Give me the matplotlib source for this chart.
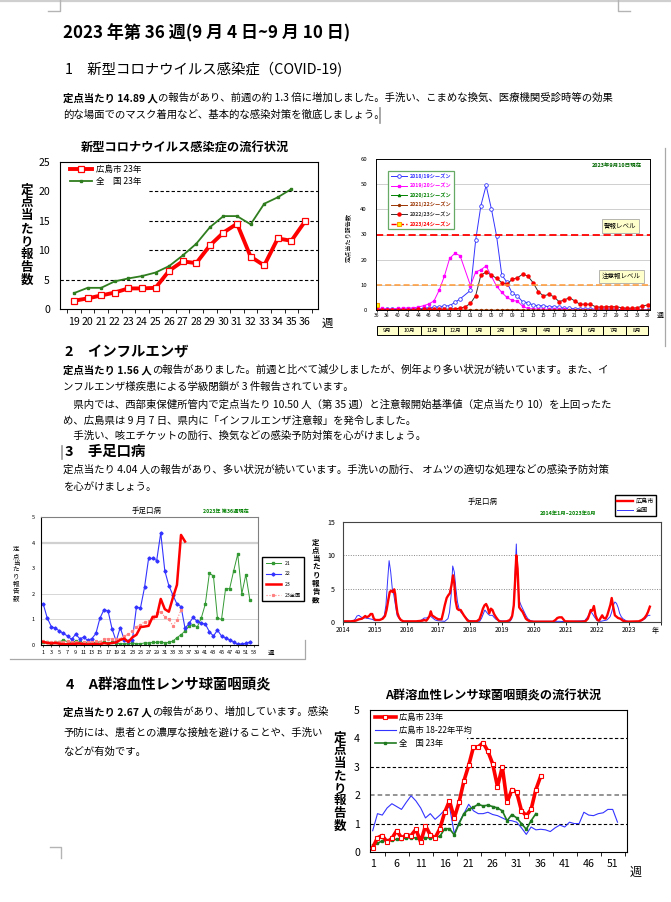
"""
Hiroshima city weekly infectious disease report, 2023 week 36.
Page text plus five small trend charts, drawn onto one 671x902 canvas.
"""
import numpy as np
import matplotlib
matplotlib.use("Agg")
import matplotlib.pyplot as plt
from matplotlib.patches import Rectangle

plt.rcParams["font.family"] = ["Noto Sans CJK JP", "DejaVu Sans"]
plt.rcParams["axes.unicode_minus"] = False

W, H = 671, 902

# ---- 1. COVID-19 (per-sentinel counts, weeks 19-36) ----
covid_weeks = list(range(19, 37))
covid_hiroshima = [1.4, 1.8, 2.3, 2.8, 3.5, 3.5, 3.6, 6.5, 8.1, 7.8, 10.8, 13.0,
                   14.5, 8.9, 7.4, 12.0, 11.6, 14.89]
covid_national = [2.7, 3.6, 3.6, 4.7, 5.2, 5.6, 6.2, 7.3, 9.1, 11.1, 13.9, 15.8,
                  15.8, 14.4, 17.9, 19.0, 20.4]

# ---- 2. Influenza by season (week 36 .. 53, 1 .. 35) ----
flu_weeks = list(range(36, 54)) + list(range(1, 36))
nan = float("nan")
flu_1819 = [0.3, 0.2, 0.2, 0.3, 0.3, 0.3, 0.4, 0.4, 0.5,
            0.6, 0.8, 1.0, 1.3, 1.6, 1.7, 3.0, 4.4, nan,
            7.8, 27.8, 41.5, 49.5, 40.3, 29.5, 14.0, 11.0, 6.6, 5.6, 3.3, 2.9,
            2.0, 1.7, 1.7, 1.3, 1.3, 1.1,
            0.7, 0.6, 0.5, 0.5, 0.4, 0.4, 0.3, 0.3, 0.3, 0.2, 0.2, 0.2, 0.2,
            0.1, 0.1, 0.1, 0.1]
flu_1920 = [0.5, 0.6, 0.5, 0.5, 0.6, 0.7, 0.8, 0.8, 1.2,
            1.7, 2.4, 3.6, 7.9, 13.5, 20.5, 22.5, 21.6, nan,
            9.7, 15.1, 16.0, 17.5, 13.5, 9.5, 7.0, 5.0, 3.8, 3.5, 1.5, 0.6,
            0.4, 0.3, 0.3, 0.2, 0.2, 0.2,
            0.2, 0.1, 0.1, 0.1, 0.1, 0.1, 0.1, 0.1, 0.1, 0.1, 0.1, 0.1, 0.1,
            0.1, 0.1, 0.1, 0.1]
flu_2021 = [0.0, 0.0, 0.0, 0.0, 0.0, 0.0, 0.0, 0.0, 0.0, 0.0, 0.0, 0.0, 0.0,
            0.0, 0.0, 0.0, 0.0, 0.0, 0.0, 0.0, 0.0, 0.0, 0.0, 0.0, 0.0, 0.0,
            0.0, 0.0, 0.0, 0.0, 0.0, 0.0, 0.0, 0.0, 0.0, 0.0, 0.0, 0.0, 0.0,
            0.0, 0.0, 0.0, 0.0, 0.0, 0.0, 0.0, 0.0, 0.0, 0.0, 0.0, 0.0, 0.0, 0.0]
flu_2122 = [0.0, 0.0, 0.0, 0.0, 0.0, 0.0, 0.0, 0.0, 0.0, 0.0, 0.0, 0.0, 0.0,
            0.0, 0.0, 0.0, 0.0, nan, 0.0, 0.0, 0.0, 0.0, 0.0, 0.0, 0.0, 0.1,
            0.1, 0.1, 0.1, 0.0, 0.0, 0.0, 0.0, 0.0, 0.0, 0.0, 0.0, 0.0, 0.0,
            0.0, 0.0, 0.0, 0.0, 0.0, 0.0, 0.0, 0.0, 0.0, 0.0, 0.0, 0.0, 0.0, 0.0]
flu_2223 = [0.1, 0.1, 0.1, 0.1, 0.1, 0.1, 0.1, 0.1, 0.2, 0.2, 0.2, 0.2, 0.3,
            0.3, 0.4, 0.5,
            0.7, 1.3, 2.6, 5.7, 13.9, 15.0, 13.9, 12.6, 10.9, 10.2,
            12.2, 12.8, 14.2, 13.5, 10.9, 7.3, 5.6, 6.2, 5.3, 3.3,
            4.0, 4.9, 3.6, 2.3, 2.3, 2.3, 1.3, 1.1, 1.3, 1.3,
            1.3, 0.9, 0.7, 0.7, 0.9, 1.6, 2.0]
flu_2324 = [1.9]
flu_warning = 30
flu_advisory = 10
month_names = ["9月", "10月", "11月", "12月", "1月", "2月", "3月", "4月",
               "5月", "6月", "7月", "8月"]
month_edges = [0, 4.1, 8.6, 12.9, 17.3, 21.7, 26.1, 30.5, 34.9, 39.2, 43.4,
               47.8, 52.1]

# ---- 3a. Hand, foot and mouth disease, weekly by year ----
hfmd_21 = [0.1, 0.12, 0.08, 0.1, 0.12, 0.2, 0.12, 0.1, 0.15, 0.1,
           0.08, 0.1, 0.08, 0.1, 0.12, 0.1, 0.08, 0.1, 0.08, 0.05,
           0.05, 0.05, 0.08, 0.05, 0.05, 0.08, 0.08, 0.1, 0.1, 0.12,
           0.08, 0.1, 0.15, 0.29, 0.4, 0.55, 0.75, 0.8, 0.7, 1.05,
           1.6, 2.8, 2.7, 1.05, 1.0, 2.2, 2.2, 2.9, 3.55, 2.0, 2.75, 1.75]
hfmd_22 = [1.6, 1.05, 0.72, 0.65, 0.55, 0.45, 0.35, 0.22, 0.42, 0.25,
           0.3, 0.18, 0.25, 0.45, 1.05, 1.38, 1.33, 0.62, 0.15, 0.68,
           0.2, 0.15, 0.2, 1.48, 1.45, 2.25, 3.38, 3.38, 3.3, 4.38,
           2.9, 2.32, 1.95, 1.6, 1.5, 0.65, 0.85, 1.08, 0.92, 0.85,
           0.82, 0.52, 0.35, 0.58, 0.35, 0.28, 0.2, 0.12, 0.02, 0.05, 0.06, 0.12]
hfmd_23 = [0.12, 0.08, 0.06, 0.08, 0.05, 0.03, 0.03, 0.04, 0.05, 0.06,
           0.03, 0.02, 0.03, 0.04, 0.02, 0.08, 0.05, 0.08, 0.1, 0.2,
           0.25, 0.12, 0.3, 0.4, 0.7, 0.72, 0.75, 1.1, 1.1, 1.8,
           1.4, 1.3, 1.85, 2.35, 4.3, 4.04]
hfmd_23_nat = [0.15, 0.12, 0.1, 0.12, 0.1, 0.12, 0.15, 0.1, 0.1, 0.08,
               0.1, 0.1, 0.12, 0.15, 0.12, 0.22, 0.25, 0.25, 0.22, 0.25,
               0.35, 0.42, 0.55, 0.7, 0.8, 0.9, 0.92, 1.05, 1.25, 1.3,
               1.1, 1.0, 0.75, 0.98, 1.37]

# ---- 3b. Hand, foot and mouth disease, 2014-01 .. 2023-08 ----
hfmd_t_hiro = [2014.00, 2014.25, 2014.40, 2014.50, 2014.60, 2014.70, 2014.75,
               2014.82, 2014.87, 2014.92, 2014.97, 2015.02, 2015.15, 2015.25,
               2015.32, 2015.37, 2015.42, 2015.47, 2015.52, 2015.56, 2015.61,
               2015.64, 2015.67, 2015.71, 2015.76, 2015.82, 2015.90, 2016.30,
               2016.50, 2016.55, 2016.62, 2016.67, 2016.72, 2016.76, 2016.80,
               2016.86, 2016.92, 2017.00, 2017.10, 2017.15, 2017.20, 2017.26,
               2017.31, 2017.36, 2017.41, 2017.46, 2017.50, 2017.54, 2017.59,
               2017.64, 2017.70, 2017.75, 2017.80, 2017.86, 2017.92, 2018.00,
               2018.20, 2018.29, 2018.35, 2018.40, 2018.45, 2018.50, 2018.55,
               2018.60, 2018.65, 2018.70, 2018.75, 2018.80, 2018.86, 2018.92,
               2019.00, 2019.15, 2019.25, 2019.32, 2019.37, 2019.41, 2019.45,
               2019.49, 2019.54, 2019.60, 2019.65, 2019.70, 2019.75, 2019.80,
               2019.88, 2020.00, 2020.60, 2020.68, 2020.74, 2020.80, 2020.88,
               2020.93, 2020.98, 2021.50, 2021.62, 2021.70, 2021.75, 2021.79,
               2021.84, 2021.89, 2021.94, 2022.00, 2022.05, 2022.10, 2022.15,
               2022.20, 2022.26, 2022.31, 2022.36, 2022.41, 2022.45, 2022.50,
               2022.55, 2022.60, 2022.65, 2022.72, 2022.80, 2022.90, 2023.30,
               2023.40, 2023.48, 2023.54, 2023.59, 2023.65]
hfmd_v_hiro = [0.1, 0.1, 0.2, 0.4, 0.5, 0.9, 0.7,
               0.9, 1.2, 1.2, 0.5, 0.3, 0.3, 0.5,
               0.9, 1.8, 3.2, 4.5, 4.7, 4.5, 4.9,
               4.2, 2.8, 1.4, 0.7, 0.3, 0.1, 0.1,
               0.2, 0.3, 0.2, 0.5, 0.9, 1.6, 1.0,
               0.8, 0.6, 0.4, 0.4, 1.4, 2.5, 3.6,
               4.0, 4.3, 5.5, 7.0, 5.8, 3.2, 2.0,
               1.8, 1.8, 1.4, 1.0, 0.6, 0.2, 0.1,
               0.1, 0.4, 1.2, 2.0, 2.5, 2.7, 2.2,
               1.3, 2.0, 1.8, 1.2, 0.8, 0.4, 0.1,
               0.05, 0.1, 0.3, 0.9, 2.5, 6.0, 10.0,
               8.0, 2.2, 1.8, 1.5, 1.0, 0.5, 0.3,
               0.1, 0.05, 0.05, 0.3, 0.6, 0.7, 0.7,
               0.4, 0.1, 0.05, 0.1, 0.5, 1.2, 1.8,
               1.7, 2.4, 1.0, 0.3, 0.2, 0.6, 1.0,
               0.6, 0.5, 1.0, 1.8, 2.6, 3.6, 2.2,
               1.0, 0.8, 0.6, 0.5, 0.2, 0.05, 0.1,
               0.3, 0.6, 1.0, 1.5, 2.3]
hfmd_t_nat = [2014.00, 2014.30, 2014.38, 2014.44, 2014.50, 2014.55, 2014.62,
              2014.72, 2014.82, 2014.92, 2015.00, 2015.20, 2015.30, 2015.35,
              2015.40, 2015.45, 2015.50, 2015.55, 2015.60, 2015.65, 2015.70,
              2015.80, 2015.90, 2016.40, 2016.50, 2016.55, 2016.62, 2016.67,
              2016.72, 2016.77, 2016.82, 2016.90, 2016.97, 2017.20, 2017.30,
              2017.35, 2017.40, 2017.45, 2017.50, 2017.55, 2017.60, 2017.65,
              2017.70, 2017.80, 2017.90, 2017.97, 2018.30, 2018.36, 2018.41,
              2018.46, 2018.51, 2018.56, 2018.61, 2018.70, 2018.75, 2018.81,
              2018.90, 2019.25, 2019.31, 2019.36, 2019.41, 2019.45, 2019.49,
              2019.54, 2019.60, 2019.65, 2019.70, 2019.75, 2019.81, 2019.90,
              2020.00, 2020.80, 2021.00, 2021.60, 2021.70, 2021.76, 2021.80,
              2021.85, 2021.90, 2021.96, 2022.00, 2022.10, 2022.30, 2022.40,
              2022.45, 2022.50, 2022.55, 2022.60, 2022.65, 2022.70, 2022.75,
              2022.80, 2022.90, 2023.00, 2023.30, 2023.40, 2023.50, 2023.55,
              2023.60, 2023.65]
hfmd_v_nat = [0.1, 0.1, 0.4, 0.9, 1.0, 0.8, 0.6,
              0.6, 0.5, 0.4, 0.2, 0.4, 1.0, 2.5,
              6.0, 9.2, 7.5, 5.0, 4.0, 2.5, 1.0,
              0.3, 0.1, 0.1, 0.4, 0.6, 0.6, 0.7,
              0.9, 0.8, 0.6, 0.3, 0.2, 0.1, 0.5,
              1.5, 4.0, 8.4, 7.5, 5.0, 3.0, 2.0,
              1.5, 1.0, 0.5, 0.2, 0.1, 0.6, 1.2,
              1.8, 1.5, 1.2, 1.0, 1.0, 0.7, 0.4,
              0.2, 0.1, 0.5, 2.0, 7.0, 11.7, 6.0,
              3.2, 2.5, 2.0, 1.5, 1.0, 0.5, 0.2,
              0.1, 0.1, 0.05, 0.2, 0.8, 1.4, 1.5,
              1.2, 0.8, 0.4, 0.2, 0.1, 0.3, 0.8,
              1.5, 2.5, 3.0, 2.8, 2.2, 1.3, 0.8,
              0.5, 0.2, 0.05, 0.05, 0.2, 0.5, 0.8,
              1.0, 1.0]
hfmd_years = list(range(2014, 2024))

# ---- 4. Group A streptococcal pharyngitis ----
strep_h23 = [0.15, 0.5, 0.58, 0.35, 0.48, 0.75, 0.5, 0.6, 0.58, 0.8,
             0.35, 0.92, 0.6, 0.5, 0.82, 1.4, 1.8, 1.2, 1.75, 2.5,
             3.05, 3.7, 3.7, 3.85, 3.55, 3.1, 2.3, 3.0, 1.75, 2.2,
             2.1, 1.45, 1.28, 1.5, 2.2, 2.67]
strep_avg = [0.75, 1.35, 1.3, 1.55, 1.7, 1.6, 1.5, 1.75, 1.98, 1.8,
             1.55, 1.2, 1.35, 1.15, 1.3, 1.48, 1.6, 0.65, 1.05, 1.35,
             1.68, 1.45, 1.35, 1.35, 1.4, 1.32, 1.28, 1.2, 1.12, 1.1,
             1.05, 0.85, 0.62, 0.88, 0.78, 0.8, 0.78, 0.72, 0.85, 0.95,
             0.88, 1.05, 1.0, 1.0, 1.4, 1.3, 1.28, 1.35, 1.38, 1.5, 1.5, 1.05]
strep_n23 = [0.25, 0.3, 0.4, 0.42, 0.42, 0.45, 0.45, 0.5, 0.5, 0.5,
             0.52, 0.5, 0.5, 0.52, 0.55, 0.82, 0.82, 0.6, 1.0, 1.35,
             1.5, 1.58, 1.68, 1.62, 1.65, 1.6, 1.55, 1.45, 1.1, 1.32,
             1.2, 1.0, 0.8, 1.1, 1.35]

RED = "#ff0000"
GREEN = "#2f7d1f"
BLUE = "#3333ff"
YLABEL = "定点当たり報告数"


def pt(size_px):
    return size_px * 0.72


def weeks_for(values):
    return np.arange(1, len(values) + 1)


fig = plt.figure(figsize=(W / 100, H / 100), dpi=100)
fig.patch.set_facecolor("white")

# full-page axes in pixel units for the document text and page marks
page = fig.add_axes([0, 0, 1, 1])
page.set_xlim(0, W)
page.set_ylim(H, 0)
page.axis("off")


def box(l, t, r, b):
    return fig.add_axes([l / W, 1 - b / H, (r - l) / W, (b - t) / H])


def say(x, y, s, size, bold=False, **kw):
    kw.setdefault("ha", "left")
    kw.setdefault("va", "center")
    return page.text(x, y, s, fontsize=pt(size),
                     fontweight="bold" if bold else "normal", **kw)


def line(x, y, parts, size):
    prev = say(x, y, parts[0][0], size, bold=parts[0][1])
    for s, b in parts[1:]:
        prev = page.annotate(s, xy=(1, 0.5), xycoords=prev, va="center",
                             ha="left", fontsize=pt(size),
                             fontweight="bold" if b else "normal")
    return prev


def vstack(x, y0, y1, s, size, bold=False, color="black"):
    step = (y1 - y0) / (len(s) - 1)
    for i, ch in enumerate(s):
        say(x, y0 + i * step, ch, size, bold=bold, ha="center", color=color)


def frame(ax, color="black", lw=0.8):
    for sp in ax.spines.values():
        sp.set_color(color)
        sp.set_linewidth(lw)


# ---- page furniture ----
grey = "#b4b4b4"
page.plot([0, W], [0.6, 0.6], color="#cfcfcf", lw=1.6)
page.plot([60, 60, 48], [0, 11, 11], color=grey, lw=1)
page.plot([618, 618, 630], [0, 11, 11], color=grey, lw=1)
page.plot([50, 61, 61], [847, 847, 858], color=grey, lw=1)
page.plot([665, 665], [148, 346], color="#a8a8a8", lw=0.9)
page.plot([10, 305, 305], [659, 659, 640], color="#a8a8a8", lw=0.9)

BODY = 10.4
HEAD = 14.4

say(63, 33, "2023 年第 36 週(9 月 4 日~9 月 10 日)", 17, bold=True)
say(65, 70, "1　新型コロナウイルス感染症（COVID-19)", HEAD)
line(63, 98, [("定点当たり 14.89 人", True),
              ("の報告があり、前週の約 1.3 倍に増加しました。手洗い、こまめな換気、医療機関受診時等の効果", False)], BODY)
say(63, 115, "的な場面でのマスク着用など、基本的な感染対策を徹底しましょう。", BODY)
page.plot([380, 380], [108, 123], color="#999999", lw=1.2)

say(65, 352, "2　インフルエンザ", HEAD, bold=True)
line(63, 370, [("定点当たり 1.56 人", True),
               ("の報告がありました。前週と比べて減少しましたが、例年より多い状況が続いています。また、イ", False)], BODY)
say(63, 387, "ンフルエンザ様疾患による学級閉鎖が 3 件報告されています。", BODY)
say(63, 405, "　県内では、西部東保健所管内で定点当たり 10.50 人（第 35 週）と注意報開始基準値（定点当たり 10）を上回ったた", BODY)
say(63, 421, "め、広島県は 9 月 7 日、県内に「インフルエンザ注意報」を発令しました。", BODY)
say(63, 436, "　手洗い、咳エチケットの励行、換気などの感染予防対策を心がけましょう。", BODY)

say(65, 452, "3　手足口病", HEAD, bold=True)
page.plot([62, 62], [446, 459], color="#999999", lw=1.2)
say(63, 470, "定点当たり 4.04 人の報告があり、多い状況が続いています。手洗いの励行、 オムツの適切な処理などの感染予防対策", BODY)
say(63, 487, "を心がけましょう。", BODY)

say(66, 685, "4　A群溶血性レンサ球菌咽頭炎", HEAD, bold=True)
line(63, 712, [("定点当たり 2.67 人", True),
               ("の報告があり、増加しています。感染", False)], BODY)
say(63, 733, "予防には、患者との濃厚な接触を避けることや、手洗い", BODY)
say(63, 752, "などが有効です。", BODY)

# ---- chart 1: COVID-19 ----
ax1 = box(60, 162, 318, 309)
ax1.set_xlim(17.97, 36.96)
ax1.set_ylim(0, 25)
for v in [5, 10, 15, 20]:
    ax1.axhline(v, color="black", lw=0.8, ls=(0, (3, 2)), zorder=1)
ax1.add_patch(Rectangle((0, 0.33), 0.34, 0.67, transform=ax1.transAxes,
                        fc="white", ec="none", zorder=1.5))
hg, = ax1.plot(covid_weeks[:len(covid_national)], covid_national, color=GREEN,
               lw=1.3, marker="s", ms=1.8, zorder=3, label="全　国 23年")
hr, = ax1.plot(covid_weeks, covid_hiroshima, color=RED, lw=2.8, marker="s",
               ms=3.8, mfc="white", mec=RED, mew=0.9, zorder=4,
               label="広島市 23年")
ax1.set_xticks(covid_weeks)
ax1.set_xticklabels([str(w) for w in covid_weeks])
ax1.set_xticks(np.arange(18.5, 37, 1), minor=True)
ax1.set_yticks([0, 5, 10, 15, 20, 25])
ax1.tick_params(axis="x", which="major", length=0, pad=pt(8), labelsize=pt(10.5))
ax1.tick_params(axis="x", which="minor", length=3, width=0.6, direction="out")
ax1.tick_params(axis="y", length=0, pad=pt(10), labelsize=pt(10.5))
frame(ax1)
ax1.legend(handles=[hr, hg], loc="upper left", bbox_to_anchor=(0.03, 1.0),
           frameon=False, fontsize=pt(8.5), handlelength=2.6,
           handletextpad=0.4, labelspacing=0.45, borderaxespad=0.1,
           borderpad=0.2)
say(185, 147, "新型コロナウイルス感染症の流行状況", 12.2, bold=True, ha="center")
vstack(27, 190, 280, YLABEL, 12.5, bold=True)
say(322, 323, "週", 11.5)

# ---- chart 2: influenza seasons ----
ax2 = box(376, 159, 650, 310)
idx = np.arange(len(flu_weeks))
ax2.set_xlim(-0.13, 52.45)
ax2.set_ylim(0, 60)
ax2.set_yticks(range(0, 61, 10))
ax2.grid(axis="y", color="#c8c8c8", lw=0.6)
ax2.set_axisbelow(True)


def season(vals, **kw):
    v = np.array(vals, dtype=float)
    x = idx[:len(v)]
    ok = ~np.isnan(v)
    return ax2.plot(x[ok], v[ok], **kw)[0]


h_list = [
    season(flu_1819, color=BLUE, lw=0.7, marker="o", ms=2.6, mfc="white",
           mec=BLUE, mew=0.6, label="2018/19シーズン"),
    season(flu_1920, color="#ff00ff", lw=0.7, marker="s", ms=2.0,
           label="2019/20シーズン"),
    season(flu_2021, color="#008000", lw=0.7, marker="^", ms=1.6,
           label="2020/21シーズン"),
    season(flu_2122, color="#993300", lw=0.7, marker="o", ms=1.4,
           label="2021/22シーズン"),
    season(flu_2223, color="#333333", lw=0.7, marker="o", ms=2.2, mfc=RED,
           mec=RED, label="2022/23シーズン"),
    season(flu_2324, color=RED, lw=1.0, ls="--", marker="s", ms=3.2,
           mfc="#ffff00", mec="#ff9900", mew=0.8, label="2023/24シーズン"),
]
ax2.axhline(flu_warning, color=RED, lw=1.3, ls=(0, (4, 2)), zorder=2)
ax2.axhline(flu_advisory, color="#ff9933", lw=1.1, ls=(0, (4, 2)), zorder=2)
ax2.text(46.8, flu_warning + 3.4, "警報レベル", ha="center", va="center",
         fontsize=pt(6.5), bbox=dict(fc="#ffffcc", ec="#999999", lw=0.5,
                                     boxstyle="square,pad=0.4"))
ax2.text(47.0, flu_advisory + 3.4, "注意報レベル", ha="center", va="center",
         fontsize=pt(6.5), bbox=dict(fc="#ffffcc", ec="#999999", lw=0.5,
                                     boxstyle="square,pad=0.4"))
ax2.text(0.97, 0.955, "2023年9月10日現在", transform=ax2.transAxes, ha="right",
         va="center", fontsize=pt(5.5), fontweight="bold", color="#006600")
ax2.set_xticks(idx[::2])
ax2.set_xticklabels([f"{w:02d}" for w in flu_weeks[::2]])
ax2.tick_params(axis="x", length=1.5, width=0.5, pad=1, labelsize=pt(5))
ax2.tick_params(axis="y", length=0, pad=pt(9), labelsize=pt(6))
frame(ax2, lw=0.7)
leg2 = ax2.legend(handles=h_list, loc="upper left",
                  bbox_to_anchor=(0.035, 0.94), fontsize=pt(5.2),
                  handlelength=3.2, handletextpad=0.5, labelspacing=0.75,
                  borderpad=0.5, fancybox=False, edgecolor="#66aa66",
                  framealpha=1, labelcolor="linecolor")
for t in leg2.get_texts():
    t.set_fontweight("bold")
leg2.get_frame().set_linewidth(0.9)
say(348, 238, YLABEL, 6.2, rotation=90, ha="center")
say(657, 316, "週", 7)

axm = box(376, 326, 650, 335)
axm.set_xlim(ax2.get_xlim())
axm.set_ylim(0, 1)
axm.axis("off")
for lo, hi, name in zip(month_edges[:-1], month_edges[1:], month_names):
    axm.add_patch(Rectangle((lo, 0), hi - lo, 1, fc="#ffffcc", ec="black",
                            lw=0.7, clip_on=False))
    axm.text((lo + hi) / 2, 0.5, name, ha="center", va="center",
             fontsize=pt(5.5))

# ---- chart 3a: HFMD weekly ----
ax3 = box(41, 517, 258, 645)
ax3.set_xlim(0.45, 54)
ax3.set_ylim(0, 5)
for v, lw in [(1, 0.6), (2, 0.6), (4, 1.6)]:
    ax3.axhline(v, color="#d0d0d0", lw=lw, zorder=1)
h21, = ax3.plot(weeks_for(hfmd_21), hfmd_21, color="#339933", lw=0.7,
                marker="s", ms=1.5, label="21")
h22, = ax3.plot(weeks_for(hfmd_22), hfmd_22, color=BLUE, lw=0.8,
                marker="D", ms=1.6, label="22")
hnat, = ax3.plot(weeks_for(hfmd_23_nat), hfmd_23_nat, color="#ff8080",
                 lw=0.8, ls=":", marker="s", ms=1.3, label="23全国")
h23, = ax3.plot(weeks_for(hfmd_23), hfmd_23, color=RED, lw=1.8, label="23")
ax3.set_xticks(range(1, 54, 2))
ax3.set_yticks(range(0, 6))
ax3.tick_params(axis="x", length=1.5, width=0.5, pad=2, labelsize=pt(5.5))
ax3.tick_params(axis="y", length=0, pad=pt(6), labelsize=pt(5.5))
frame(ax3, color="#808080")
ax3.spines["left"].set_color("black")
ax3.spines["bottom"].set_color("black")
ax3.legend(handles=[h21, h22, h23, hnat], loc="upper left",
           bbox_to_anchor=(262 / W, 1 - 557 / H),
           bbox_transform=fig.transFigure, borderaxespad=0,
           fontsize=pt(5.2), handlelength=3.0, handletextpad=0.6,
           labelspacing=1.1, borderpad=0.7, fancybox=False,
           edgecolor="black", framealpha=1)
say(147, 511, "手足口病", 7.5, ha="center")
say(203, 511, "2023年 第36週現在", 5.2, bold=True, color="#008000")
vstack(16, 549, 598, YLABEL, 6.5)
say(268, 653, "週", 6.5)

# ---- chart 3b: HFMD 2014-2023 ----
ax4 = box(343, 522, 661, 622)
ax4.set_xlim(2014, 2024)
ax4.set_ylim(0, 15)
for v in [5, 10]:
    ax4.axhline(v, color="#888888", lw=0.7, ls=(0, (1, 1.5)), zorder=1)
hn, = ax4.plot(hfmd_t_nat, hfmd_v_nat, color=BLUE, lw=0.7, label="全国")
hh, = ax4.plot(hfmd_t_hiro, hfmd_v_hiro, color=RED, lw=1.7, label="広島市")
ax4.set_xticks(hfmd_years + [2024])
ax4.set_xticklabels([str(y) for y in hfmd_years] + [""])
ax4.set_yticks([0, 5, 10, 15])
ax4.tick_params(axis="x", length=2, width=0.6, pad=1, labelsize=pt(6.5))
ax4.tick_params(axis="y", length=0, pad=pt(8), labelsize=pt(7))
frame(ax4, color="#444444")
ax4.legend(handles=[hh, hn], loc="upper left",
           bbox_to_anchor=(615 / W, 1 - 495 / H),
           bbox_transform=fig.transFigure, borderaxespad=0,
           fontsize=pt(6.2), handlelength=2.6, handletextpad=0.4,
           labelspacing=0.2, borderpad=0.3, fancybox=False,
           edgecolor="black", framealpha=1)
say(483, 502, "手足口病", 7.5, ha="center")
say(540, 513, "2014年1月~2023年8月", 5.4, bold=True, color="#008000")
vstack(316, 542, 600, YLABEL, 7.5, bold=True)
say(652, 631, "年", 7)

# ---- chart 4: group A strep ----
ax5 = box(370, 710, 627, 852)
ax5.set_xlim(0.44, 53.98)
ax5.set_ylim(0, 5)
for v in [1, 3, 4]:
    ax5.axhline(v, color="black", lw=0.8, ls=(0, (3, 2)), zorder=1)
ax5.axhline(2, color="#777777", lw=1.1, ls=(0, (3, 2)), zorder=1)
ax5.add_patch(Rectangle((0, 0.7), 0.377, 0.3, transform=ax5.transAxes,
                        fc="white", ec="none", zorder=1.5))
ha_, = ax5.plot(weeks_for(strep_avg), strep_avg, color=BLUE, lw=0.8,
                zorder=3, label="広島市 18-22年平均")
hn5, = ax5.plot(weeks_for(strep_n23), strep_n23, color="#1f7a1f", lw=1.2,
                marker="s", ms=1.7, zorder=4, label="全　国 23年")
hr5, = ax5.plot(weeks_for(strep_h23), strep_h23, color=RED, lw=2.6,
                marker="s", ms=3.4, mfc="white", mec=RED, mew=0.8, zorder=5,
                label="広島市 23年")
ax5.set_xticks(range(1, 53, 5))
ax5.set_xticks(np.arange(3.5, 54, 5), minor=True)
ax5.set_yticks(range(0, 6))
ax5.tick_params(axis="x", which="major", length=0, pad=pt(7), labelsize=pt(10.5))
ax5.tick_params(axis="x", which="minor", length=3, width=0.6)
ax5.tick_params(axis="y", length=0, pad=pt(10), labelsize=pt(10.5))
frame(ax5)
ax5.legend(handles=[hr5, ha_, hn5], loc="upper left",
           bbox_to_anchor=(0.01, 1.0), frameon=False, fontsize=pt(8.3),
           handlelength=2.5, handletextpad=0.4, labelspacing=0.5,
           borderaxespad=0.1, borderpad=0.2)
say(493, 696, "A群溶血性レンサ球菌咽頭炎の流行状況", 12.2, bold=True, ha="center")
vstack(340, 738, 826, YLABEL, 12.5, bold=True)
say(630, 872, "週", 12)

fig.savefig("out.png", dpi=100, facecolor="white")
plt.close(fig)
